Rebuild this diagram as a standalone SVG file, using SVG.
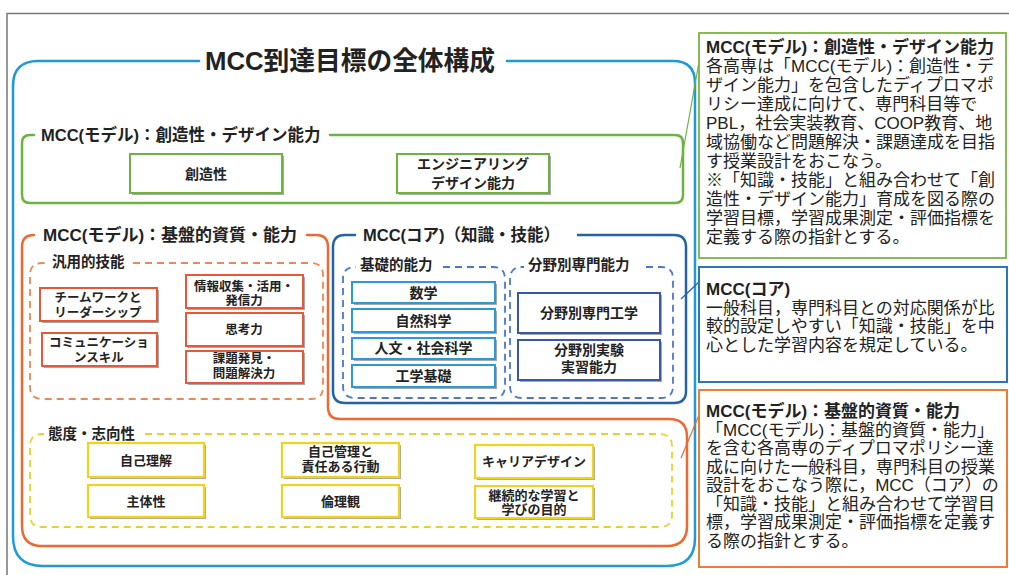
<svg xmlns="http://www.w3.org/2000/svg" width="1009" height="575" viewBox="0 0 1009 575">
<style>
text{font-family:"Liberation Sans","Noto Sans CJK JP",sans-serif;fill:#222}
.b{font-weight:bold}
.m{text-anchor:middle}
.lbl{font-size:16.5px;font-weight:bold}
.sub{font-size:14.5px;font-weight:bold}
.it{font-size:12.5px;font-weight:bold;text-anchor:middle}
.iy{font-size:13px;font-weight:bold;text-anchor:middle}
.ib{font-size:14px;font-weight:bold;text-anchor:middle}
.desc{font-size:17px}
.sh{fill:#a8a8a8}
.gi{fill:#fff;stroke:#6cb33f;stroke-width:2}
.oi{fill:#fff;stroke:#e9573a;stroke-width:2}
.bi{fill:#fff;stroke:#2a9ad8;stroke-width:2}
.pi{fill:#fff;stroke:#3a56a6;stroke-width:2}
.yi{fill:#fff;stroke:#f2d31b;stroke-width:2.2}
.frame{fill:none;stroke-width:2.5;stroke-linecap:round}
.dash{fill:none;stroke-width:1.8;stroke-dasharray:7 5}
.con{fill:none;stroke-width:1.2}
</style>

<path d="M7,575 V13.5 H1009" fill="none" stroke="#777" stroke-width="1.5"/>

<g id="overall">
<path class="frame" stroke="#1e9bd7" d="M199,61 H38 Q13,61 13,86 V536 Q13,566 43,566 H667 Q695,566 695,538 V83 Q695,61 673,61 H507"/>
<text class="b" x="205" y="70" font-size="26" textLength="290" lengthAdjust="spacingAndGlyphs">MCC到達目標の全体構成</text>
</g>

<g id="creativity">
<path class="frame" stroke="#6cb33f" stroke-width="2" d="M34,135 H30 Q22,135 22,143 V195 Q22,203 30,203 H675 Q683,203 683,195 V143 Q683,135 675,135 H330"/>
<text class="lbl" x="41" y="141">MCC(モデル)：創造性・デザイン能力</text>
<g id="n-souzousei">
<rect class="sh" x="132" y="156" width="152" height="39"/>
<rect class="gi" x="130" y="154" width="152" height="39"/>
<text class="ib" x="206" y="179">創造性</text>
</g>
<g id="n-engdesign">
<rect class="sh" x="399" y="156" width="152" height="39"/>
<rect class="gi" x="397" y="154" width="152" height="39"/>
<text class="ib" x="473" y="169">エンジニアリング</text>
<text class="ib" x="473" y="188">デザイン能力</text>
</g>
</g>

<g id="kiban">
<path class="frame" stroke="#ec6a32" d="M34,235 H34 Q22,235 22,247 V526 Q22,546 42,546 H667 Q687,546 687,526 V437 Q687,419 669,419 H340 Q328,419 328,407 V247 Q328,235 316,235 H307"/>
<text class="b" x="43" y="241" font-size="17">MCC(モデル)：基盤的資質・能力</text>
</g>

<g id="hanyo">
<path class="dash" stroke="#ef8654" d="M133,263 H311 Q323,263 323,275 V387 Q323,399 311,399 H42 Q30,399 30,387 V275 Q30,263 42,263 H46"/>
<text class="sub" x="52" y="267">汎用的技能</text>
<g id="n-teamwork">
<rect class="sh" x="42" y="290" width="117" height="33"/>
<rect class="oi" x="40" y="288" width="117" height="33"/>
<text class="it" x="98" y="302">チームワークと</text>
<text class="it" x="98" y="317">リーダーシップ</text>
</g>
<g id="n-comm">
<rect class="sh" x="44" y="335" width="115" height="33"/>
<rect class="oi" x="42" y="333" width="115" height="33"/>
<text class="it" x="99" y="346.5">コミュニケーショ</text>
<text class="it" x="99" y="361.5">ンスキル</text>
</g>
<g id="n-joho">
<rect class="sh" x="188" y="277" width="117" height="33"/>
<rect class="oi" x="186" y="275" width="117" height="33"/>
<text class="it" x="244" y="290.5">情報収集・活用・</text>
<text class="it" x="244" y="304.5">発信力</text>
</g>
<g id="n-shiko">
<rect class="sh" x="188" y="315" width="117" height="33"/>
<rect class="oi" x="186" y="313" width="117" height="33"/>
<text class="it" x="244" y="334" font-size="14">思考力</text>
</g>
<g id="n-kadai">
<rect class="sh" x="188" y="353" width="117" height="32"/>
<rect class="oi" x="186" y="351" width="117" height="32"/>
<text class="it" x="244" y="362.5">課題発見・</text>
<text class="it" x="244" y="377.5">問題解決力</text>
</g>
</g>

<g id="core">
<path class="frame" stroke="#2563a8" d="M355,235 H345 Q333,235 333,247 V391 Q333,403 345,403 H674 Q686,403 686,391 V247 Q686,235 674,235 H578"/>
<text class="lbl" x="363" y="241">MCC(コア)（知識・技能）</text>
</g>

<g id="kiso">
<path class="dash" stroke="#4a78c8" d="M443,267 H493 Q505,267 505,279 V386 Q505,398 493,398 H355 Q343,398 343,386 V279 Q343,267 355,267 H356"/>
<text class="sub" x="360" y="270">基礎的能力</text>
<g id="n-sugaku">
<rect class="sh" x="354" y="284" width="143" height="21"/>
<rect class="bi" x="352" y="282" width="143" height="21"/>
<text class="ib" x="423.5" y="297.5">数学</text>
</g>
<g id="n-shizen">
<rect class="sh" x="354" y="311" width="143" height="23"/>
<rect class="bi" x="352" y="309" width="143" height="23"/>
<text class="ib" x="423.5" y="325.5">自然科学</text>
</g>
<g id="n-jinbun">
<rect class="sh" x="354" y="340" width="143" height="21"/>
<rect class="bi" x="352" y="338" width="143" height="21"/>
<text class="ib" x="423.5" y="353">人文・社会科学</text>
</g>
<g id="n-kogaku">
<rect class="sh" x="354" y="367" width="143" height="22"/>
<rect class="bi" x="352" y="365" width="143" height="22"/>
<text class="ib" x="423.5" y="381">工学基礎</text>
</g>
</g>

<g id="senmon">
<path class="dash" stroke="#4a78c8" d="M646,267 H661 Q673,267 673,279 V386 Q673,398 661,398 H522 Q510,398 510,386 V279 Q510,267 522,267 H524"/>
<text class="sub" x="528" y="270">分野別専門能力</text>
<g id="n-senmonkogaku">
<rect class="sh" x="520" y="295" width="142" height="40"/>
<rect class="pi" x="518" y="293" width="142" height="40"/>
<text class="ib" x="589" y="318" font-size="14.5">分野別専門工学</text>
</g>
<g id="n-jikken">
<rect class="sh" x="520" y="342" width="142" height="40"/>
<rect class="pi" x="518" y="340" width="142" height="40"/>
<text class="ib" x="589" y="355" font-size="14.5">分野別実験</text>
<text class="ib" x="589" y="372" font-size="14.5">実習能力</text>
</g>
</g>

<g id="taido">
<path class="dash" stroke="#e8d22a" stroke-width="2" d="M145,434 H660 Q672,434 672,446 V515 Q672,527 660,527 H42 Q30,527 30,515 V446 Q30,434 42,434 H44"/>
<text class="sub" x="48" y="439">態度・志向性</text>
<g id="n-jikorikai">
<rect class="sh" x="90" y="445" width="116" height="34"/>
<rect class="yi" x="88" y="443" width="116" height="34"/>
<text class="iy" x="146" y="464.5">自己理解</text>
</g>
<g id="n-shutaisei">
<rect class="sh" x="90" y="487" width="116" height="32"/>
<rect class="yi" x="88" y="485" width="116" height="32"/>
<text class="iy" x="146" y="505.5">主体性</text>
</g>
<g id="n-jikokanri">
<rect class="sh" x="284" y="445" width="117" height="34"/>
<rect class="yi" x="282" y="443" width="117" height="34"/>
<text class="iy" x="340.5" y="456">自己管理と</text>
<text class="iy" x="340.5" y="471">責任ある行動</text>
</g>
<g id="n-rinri">
<rect class="sh" x="284" y="487" width="117" height="32"/>
<rect class="yi" x="282" y="485" width="117" height="32"/>
<text class="iy" x="340.5" y="505.5">倫理観</text>
</g>
<g id="n-career">
<rect class="sh" x="477" y="447" width="118" height="33"/>
<rect class="yi" x="475" y="445" width="118" height="33"/>
<text class="iy" x="534" y="466">キャリアデザイン</text>
</g>
<g id="n-keizoku">
<rect class="sh" x="477" y="488" width="118" height="32"/>
<rect class="yi" x="475" y="486" width="118" height="32"/>
<text class="iy" x="534" y="499.5">継続的な学習と</text>
<text class="iy" x="534" y="513.5">学びの目的</text>
</g>
</g>

<g id="connectors">
<line class="con" stroke="#6cb33f" x1="680" y1="168" x2="699" y2="62"/>
<line class="con" stroke="#2563a8" x1="681" y1="299" x2="699" y2="282"/>
<line class="con" stroke="#ec6a32" x1="681" y1="458" x2="699" y2="415"/>
</g>

<g id="desc-creativity">
<rect x="699" y="33" width="307" height="225" fill="#fff" stroke="#7cb342" stroke-width="1.8"/>
<text class="desc b" x="706" y="53">MCC(モデル)：創造性・デザイン能力</text>
<text class="desc" x="706" y="72">各高専は「MCC(モデル)：創造性・デ</text>
<text class="desc" x="706" y="91">ザイン能力」を包含したディプロマポ</text>
<text class="desc" x="706" y="110">リシー達成に向けて、専門科目等で</text>
<text class="desc" x="706" y="129">PBL，社会実装教育、COOP教育、地</text>
<text class="desc" x="706" y="148">域協働など問題解決・課題達成を目指</text>
<text class="desc" x="706" y="167">す授業設計をおこなう。</text>
<text class="desc" x="706" y="186">※「知識・技能」と組み合わせて「創</text>
<text class="desc" x="706" y="205">造性・デザイン能力」育成を図る際の</text>
<text class="desc" x="706" y="224">学習目標，学習成果測定・評価指標を</text>
<text class="desc" x="706" y="243">定義する際の指針とする。</text>
</g>

<g id="desc-core">
<rect x="699" y="267" width="308" height="115" fill="#fff" stroke="#2e75b6" stroke-width="2"/>
<text class="desc b" x="706" y="295">MCC(コア)</text>
<text class="desc" x="706" y="313.5">一般科目，専門科目との対応関係が比</text>
<text class="desc" x="706" y="332">較的設定しやすい「知識・技能」を中</text>
<text class="desc" x="706" y="350.5">心とした学習内容を規定している。</text>
</g>

<g id="desc-kiban">
<rect x="699" y="390" width="308" height="177" fill="#fff" stroke="#ed7d31" stroke-width="2"/>
<text class="desc b" x="706" y="417">MCC(モデル)：基盤的資質・能力</text>
<text class="desc" x="706" y="435.5">「MCC(モデル)：基盤的資質・能力」</text>
<text class="desc" x="706" y="454">を含む各高専のディプロマポリシー達</text>
<text class="desc" x="706" y="472.5">成に向けた一般科目，専門科目の授業</text>
<text class="desc" x="706" y="491">設計をおこなう際に，MCC（コア）の</text>
<text class="desc" x="706" y="509.5">「知識・技能」と組み合わせて学習目</text>
<text class="desc" x="706" y="528">標，学習成果測定・評価指標を定義す</text>
<text class="desc" x="706" y="546.5">る際の指針とする。</text>
</g>
</svg>
